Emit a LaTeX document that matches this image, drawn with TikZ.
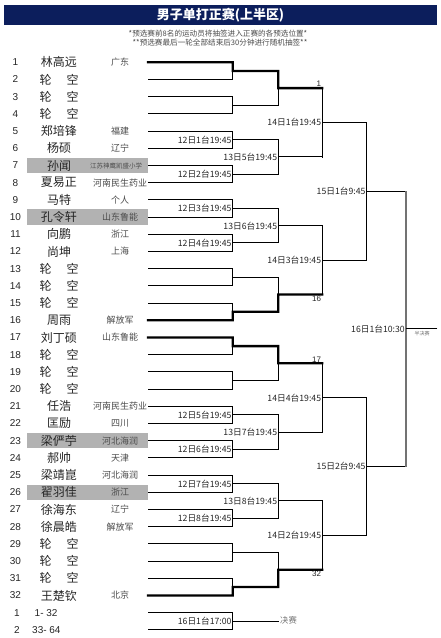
\documentclass[tikz,border=0pt]{standalone}
\usepackage{fontspec}
\setmainfont{Liberation Sans}
\newfontfamily\cjk{Noto Sans CJK SC}
\usetikzlibrary{calc}
\definecolor{navy}{RGB}{12,30,92}
\newcommand\lunkong{轮\hspace{15pt}空}
\newcommand\myrow[3]{%
  \node[numf] (num#1) at (15.5,{62.3+(#1-1)*17.2}) {#1};
  \node[namef] (nm#1) at (59,{62.3+(#1-1)*17.2}) {#2};
  \node[provf] (pv#1) at (120,{62.3+(#1-1)*17.2}) {#3};
}
\newcommand\grayrow[1]{%
  \node[graybox] (g#1) at (87.5,{62.3+(#1-1)*17.2}) {};
}
\begin{document}
\begin{tikzpicture}[x=1pt,y=-1pt,
  ln/.style={line width=0.9pt, black, line cap=rect},
  thk/.style={line width=2.3pt, black, line cap=rect, line join=miter},
  mid/.style={line width=1.5pt, black, line cap=rect},
  numf/.style={inner sep=0pt, font=\fontsize{10}{11}\selectfont, text=black!85},
  namef/.style={inner sep=0pt, font=\cjk\fontsize{12}{13}\selectfont, text=black!85},
  provf/.style={inner sep=0pt, font=\cjk\fontsize{9}{10}\selectfont, text=black!70},
  graybox/.style={fill=black!30, minimum width=121pt, minimum height=15.5pt, inner sep=0pt, draw=none},
  tl/.style={anchor=east, inner sep=1pt, font=\cjk\fontsize{8.7}{9}\selectfont, text=black!85},
  sd/.style={inner sep=1pt, font=\fontsize{8}{9}\selectfont, text=black!85}
]
\useasboundingbox (0,0) rectangle (441,638);
\fill[white] (0,0) rectangle (441,638);

% title
\node[fill=navy, minimum width=433pt, minimum height=20pt, inner sep=0pt,
      text=white, font=\cjk\bfseries\fontsize{13}{15}\selectfont] (title) at (220.5,15) {男子单打正赛(上半区)};
\node[inner sep=0pt, font=\cjk\fontsize{7.6}{8}\selectfont, text=black!70] (sub1) at (218,34) {*预选赛前8名的运动员将抽签进入正赛的各预选位置*};
\node[inner sep=0pt, font=\cjk\fontsize{7.6}{8}\selectfont, text=black!70] (sub2) at (220,42.5) {**预选赛最后一轮全部结束后30分钟进行随机抽签**};

% gray highlight rows
\grayrow{7}\grayrow{10}\grayrow{23}\grayrow{26}

% rows
\myrow{1}{林高远}{广东}
\myrow{2}{\lunkong}{}
\myrow{3}{\lunkong}{}
\myrow{4}{\lunkong}{}
\myrow{5}{郑培锋}{福建}
\myrow{6}{杨硕}{辽宁}
\node[numf] (num7) at (15.5,{62.3+6*17.2}) {7};
\node[namef] (nm7) at (59,{62.3+6*17.2}) {孙闻};
\node[provf, font=\cjk\fontsize{6.5}{7}\selectfont] (pv7) at (116,{62.3+6*17.2}) {江苏神鹰凯盛小学};
\myrow{8}{夏易正}{河南民生药业}
\myrow{9}{马特}{个人}
\myrow{10}{孔令轩}{山东鲁能}
\myrow{11}{向鹏}{浙江}
\myrow{12}{尚坤}{上海}
\myrow{13}{\lunkong}{}
\myrow{14}{\lunkong}{}
\myrow{15}{\lunkong}{}
\myrow{16}{周雨}{解放军}
\myrow{17}{刘丁硕}{山东鲁能}
\myrow{18}{\lunkong}{}
\myrow{19}{\lunkong}{}
\myrow{20}{\lunkong}{}
\myrow{21}{任浩}{河南民生药业}
\myrow{22}{匡励}{四川}
\myrow{23}{梁俨苧}{河北海润}
\myrow{24}{郝帅}{天津}
\myrow{25}{梁靖崑}{河北海润}
\myrow{26}{翟羽佳}{浙江}
\myrow{27}{徐海东}{辽宁}
\myrow{28}{徐晨皓}{解放军}
\myrow{29}{\lunkong}{}
\myrow{30}{\lunkong}{}
\myrow{31}{\lunkong}{}
\myrow{32}{王楚钦}{北京}
\node[numf] (num33) at (17,{62.3+32*17.2}) {1};
\node[numf, anchor=west] (rg33) at (34.5,{62.3+32*17.2}) {1- 32};
\node[numf] (num34) at (17,{62.3+33*17.2}) {2};
\node[numf, anchor=west] (rg34) at (32,{62.3+33*17.2}) {33- 64};

% line ends
\foreach \n in {1,...,34} {
  \pgfmathsetmacro{\yy}{62.3+(\n-1)*17.2}
  \coordinate (L\n) at (148,\yy);
  \coordinate (R\n) at (232.7,\yy);
}
\coordinate (X2) at (278.3,0);
\coordinate (X3) at (322.3,0);
\coordinate (X4) at (366.7,0);
\coordinate (X5) at (406,0);
\coordinate (X6) at (437,0);

% round 1
\foreach \k in {1,...,17} {
  \pgfmathtruncatemacro{\i}{2*\k-1}
  \pgfmathtruncatemacro{\j}{2*\k}
  \draw[ln] (L\i) -- (R\i);
  \draw[ln] (L\j) -- (R\j);
  \draw[ln] (R\i) -- (R\j);
  \coordinate (a\k) at ($(R\i)!0.5!(R\j)$);
  \draw[ln] (a\k) -- (a\k -| X2);
}
% round 2
\foreach \k in {1,...,8} {
  \pgfmathtruncatemacro{\i}{2*\k-1}
  \pgfmathtruncatemacro{\j}{2*\k}
  \draw[ln] (a\i -| X2) -- (a\j -| X2);
  \coordinate (b\k) at ($(a\i -| X2)!0.5!(a\j -| X2)$);
  \draw[ln] (b\k) -- (b\k -| X3);
}
% round 3
\foreach \k in {1,...,4} {
  \pgfmathtruncatemacro{\i}{2*\k-1}
  \pgfmathtruncatemacro{\j}{2*\k}
  \draw[mid] (b\i -| X3) -- (b\j -| X3);
  \coordinate (c\k) at ($(b\i -| X3)!0.5!(b\j -| X3)$);
  \draw[ln] (c\k) -- (c\k -| X4);
}
% round 4
\foreach \k in {1,2} {
  \pgfmathtruncatemacro{\i}{2*\k-1}
  \pgfmathtruncatemacro{\j}{2*\k}
  \draw[ln] (c\i -| X4) -- (c\j -| X4);
  \coordinate (d\k) at ($(c\i -| X4)!0.5!(c\j -| X4)$);
  \draw[ln] (d\k) -- (d\k -| X5);
}
% round 5
\draw[line width=1.1pt, black!55] (d1 -| X5) -- (d2 -| X5);
\coordinate (e1) at ($(d1 -| X5)!0.5!(d2 -| X5)$);
\draw[ln] (e1) -- (e1 -| X6);

% seed paths
\draw[thk] (L1) -- (R1) -- (a1) -- (a1 -| X2) -- (b1) -- (b1 -| X3);
\draw[thk] (L16) -- (R16) -- (a8) -- (a8 -| X2) -- (b4) -- (b4 -| X3);
\draw[thk] (L17) -- (R17) -- (a9) -- (a9 -| X2) -- (b5) -- (b5 -| X3);
\draw[thk] (L32) -- (R32) -- (a16) -- (a16 -| X2) -- (b8) -- (b8 -| X3);

% seed labels
\node[sd, anchor=south east] (s1) at (b1 -| X3) {1};
\node[sd, anchor=north east] (s16) at (b4 -| X3) {16};
\node[sd, anchor=south east] (s17) at (b5 -| X3) {17};
\node[sd, anchor=north east] (s32) at (b8 -| X3) {32};

% match labels
\node[tl] (ta3) at (a3) {12日1台19:45};
\node[tl] (ta4) at (a4) {12日2台19:45};
\node[tl] (ta5) at (a5) {12日3台19:45};
\node[tl] (ta6) at (a6) {12日4台19:45};
\node[tl] (ta11) at (a11) {12日5台19:45};
\node[tl] (ta12) at (a12) {12日6台19:45};
\node[tl] (ta13) at (a13) {12日7台19:45};
\node[tl] (ta14) at (a14) {12日8台19:45};
\node[tl] (ta17) at (a17) {16日1台17:00};
\node[tl] (tb2) at (b2) {13日5台19:45};
\node[tl] (tb3) at (b3) {13日6台19:45};
\node[tl] (tb6) at (b6) {13日7台19:45};
\node[tl] (tb7) at (b7) {13日8台19:45};
\node[tl] (tc1) at (c1) {14日1台19:45};
\node[tl] (tc2) at (c2) {14日3台19:45};
\node[tl] (tc3) at (c3) {14日4台19:45};
\node[tl] (tc4) at (c4) {14日2台19:45};
\node[tl] (td1) at (d1) {15日1台9:45};
\node[tl] (td2) at (d2) {15日2台9:45};
\node[tl] (te1) at (e1) {16日1台10:30};

\node[inner sep=0pt, font=\cjk\fontsize{5}{6}\selectfont, text=black!55] (semi) at (422,333.5) {半决赛};
\node[inner sep=0pt, anchor=west, font=\cjk\fontsize{8.3}{9}\selectfont, text=black!55] (final) at (280,620.7) {决赛};
\end{tikzpicture}
\end{document}
